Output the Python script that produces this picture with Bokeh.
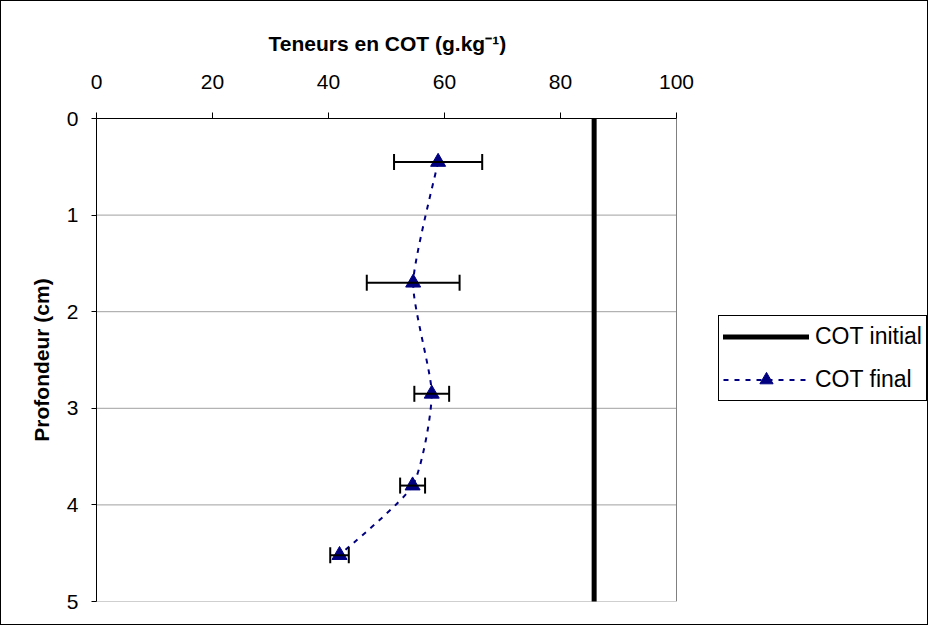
import numpy as np
from bokeh.plotting import figure
from bokeh.models import (Range1d, FixedTicker, Whisker, TeeHead, ColumnDataSource,
                          Legend, LegendItem)
from bokeh.embed import file_html
from bokeh.resources import INLINE

# ---- data ----
depth = [0.45, 1.70, 2.85, 3.80, 4.52]          # Profondeur (cm)
cot_final = [58.9, 54.6, 57.8, 54.5, 41.9]      # COT final (g/kg)
cot_err = [7.6, 8.0, 3.0, 2.15, 1.6]            # error bar half-width
cot_initial = [85.8, 85.8]                      # COT initial (g/kg)
initial_depth = [0, 5]
x_ticks = [0, 20, 40, 60, 80, 100]
y_ticks = [0, 1, 2, 3, 4, 5]
x_axis_max = 100

FONT = "Liberation Sans"
NAVY = "#000080"

W, H = 928, 625
LEFT, TOP, BOTTOM = 95, 117, 25
PX_PER_UNIT = 5.8
frame_w = W - LEFT
x_view_end = frame_w / PX_PER_UNIT   # frame extended to the right to host the legend

p = figure(width=W, height=H,
           x_range=Range1d(0, x_view_end), y_range=Range1d(5, 0),
           x_axis_location="above",
           output_backend="svg", toolbar_location=None,
           min_border_left=LEFT, min_border_top=TOP,
           min_border_right=0, min_border_bottom=BOTTOM,
           background_fill_color="white", border_fill_color="white")
p.styles = {"border": "1px solid black"}
p.outline_line_color = None

# title of the (top) x axis, centred over the 0-100 part of the axis
title_text = "Teneurs en COT (g.kg\u207b\u00b9)"
p.title.text = title_text
p.title.align = "left"
p.title.offset = 172
p.title.standoff = 33
p.title.text_font = FONT
p.title.text_font_size = "21px"
p.title.text_font_style = "bold"
p.title.text_color = "black"

# axes
p.xaxis.ticker = FixedTicker(ticks=x_ticks)
p.xaxis.bounds = (0, x_axis_max)
p.yaxis.ticker = FixedTicker(ticks=y_ticks)
for ax in (p.xaxis[0], p.yaxis[0]):
    ax.major_label_text_font = FONT
    ax.major_label_text_font_size = "21px"
    ax.major_label_text_color = "black"
    ax.axis_line_color = "black"
    ax.axis_line_width = 1
    ax.major_tick_line_color = "black"
    ax.major_tick_in = 0
    ax.minor_tick_in = 0
    ax.minor_tick_out = 0
    ax.axis_label_text_font = FONT
    ax.axis_label_text_font_size = "21px"
    ax.axis_label_text_font_style = "bold"
    ax.axis_label_text_color = "black"
p.xaxis.major_tick_out = 6
p.yaxis.major_tick_out = 5
p.xaxis.major_label_standoff = 24
p.yaxis.major_label_standoff = 13
p.yaxis.axis_label = "Profondeur (cm)"
p.yaxis.axis_label_standoff = 11
p.grid.visible = False

# horizontal gridlines and right border of the plot area (only up to x = 100)
grid_y = y_ticks[1:]
p.segment(x0=[0] * len(grid_y), x1=[x_axis_max] * len(grid_y), y0=grid_y, y1=grid_y,
          line_color="#a0a0a0", line_width=1)
p.segment(x0=[x_axis_max], x1=[x_axis_max], y0=[y_ticks[0]], y1=[y_ticks[-1]],
          line_color="#808080", line_width=1)

# error bars
lo = [v - e for v, e in zip(cot_final, cot_err)]
hi = [v + e for v, e in zip(cot_final, cot_err)]
src = ColumnDataSource(dict(depth=depth, lo=lo, hi=hi, x=cot_final))
w = Whisker(source=src, base="depth", lower="lo", upper="hi", dimension="width",
            line_color="black", line_width=2, level="glyph",
            upper_head=TeeHead(size=16, line_color="black", line_width=2),
            lower_head=TeeHead(size=16, line_color="black", line_width=2))
p.add_layout(w)

# COT initial vertical line
r_init = p.line(cot_initial, initial_depth, line_color="black", line_width=5,
                line_cap="round")

# lightly smoothed dashed curve (Catmull-Rom style cubic Bezier)
k = 10.0
xs = [cot_final[0]] + cot_final + [cot_final[-1]]
ys = [depth[0]] + depth + [depth[-1]]
bx0, by0, bx1, by1, cx0, cy0, cx1, cy1 = [], [], [], [], [], [], [], []
for i in range(len(cot_final) - 1):
    p0x, p1x, p2x, p3x = xs[i], xs[i + 1], xs[i + 2], xs[i + 3]
    p0y, p1y, p2y, p3y = ys[i], ys[i + 1], ys[i + 2], ys[i + 3]
    bx0.append(p1x); by0.append(p1y)
    bx1.append(p2x); by1.append(p2y)
    cx0.append(p1x + (p2x - p0x) / k); cy0.append(p1y + (p2y - p0y) / k)
    cx1.append(p2x - (p3x - p1x) / k); cy1.append(p2y - (p3y - p1y) / k)
p.bezier(x0=bx0, y0=by0, x1=bx1, y1=by1, cx0=cx0, cy0=cy0, cx1=cx1, cy1=cy1,
         line_color=NAVY, line_width=2, line_dash="5 6")
# legend proxy for the dashed line (a single NaN point, draws nothing in the plot)
r_dash = p.line(x=[float("nan")], y=[float("nan")], line_color=NAVY, line_width=2,
                line_dash="5 6")

r_pts = p.scatter(cot_final, depth, marker="triangle", size=15,
                  fill_color=NAVY, line_color=NAVY)

legend = Legend(items=[LegendItem(label="COT initial", renderers=[r_init]),
                       LegendItem(label="COT final", renderers=[r_dash, r_pts])],
                location=(622, 200), orientation="vertical",
                border_line_color="black", border_line_width=1, border_line_alpha=1,
                background_fill_color="white", background_fill_alpha=1,
                padding=4, spacing=10, margin=0,
                glyph_width=86, glyph_height=33, label_standoff=6,
                label_text_font=FONT, label_text_font_size="23px",
                label_text_color="black")
p.add_layout(legend)

open("out.html", "w").write(file_html(p, INLINE))
